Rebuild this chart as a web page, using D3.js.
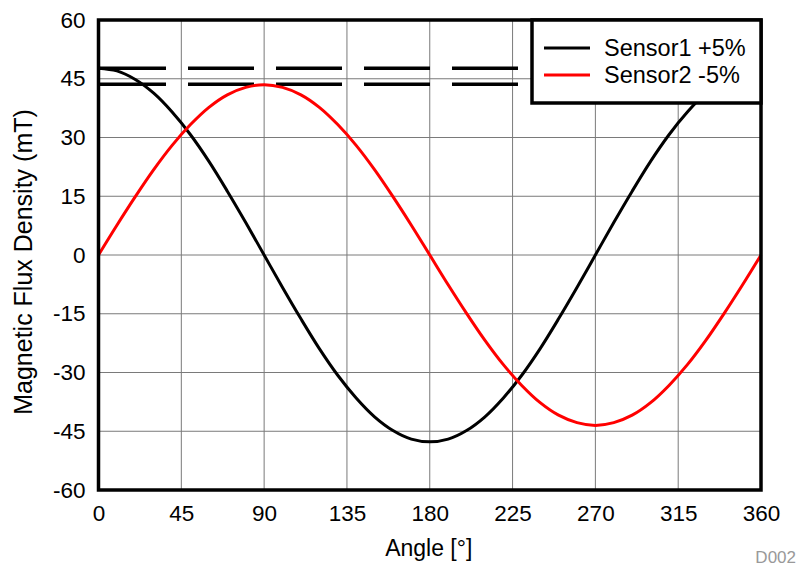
<!DOCTYPE html>
<html><head><meta charset="utf-8">
<script src="https://cdn.jsdelivr.net/npm/d3@7"></script>
<style>body{margin:0;background:#fff}svg{display:block}text{font-family:"Liberation Sans",Arial,sans-serif}</style>
</head><body>
<svg id="c" width="798" height="567"></svg>
<script>
const angles = d3.range(0, 361, 10);
const sensor1 = [47.7, 47.0, 44.8, 41.3, 36.5, 30.7, 23.9, 16.3, 8.3, 0, -8.3, -16.3, -23.9, -30.7, -36.5, -41.3, -44.8, -47.0, -47.7, -47.0, -44.8, -41.3, -36.5, -30.7, -23.9, -16.3, -8.3, 0, 8.3, 16.3, 23.9, 30.7, 36.5, 41.3, 44.8, 47.0, 47.7];
const sensor2 = [0, 7.6, 14.9, 21.8, 28.0, 33.3, 37.7, 40.9, 42.8, 43.5, 42.8, 40.9, 37.7, 33.3, 28.0, 21.8, 14.9, 7.6, 0, -7.6, -14.9, -21.8, -28.0, -33.3, -37.7, -40.9, -42.8, -43.5, -42.8, -40.9, -37.7, -33.3, -28.0, -21.8, -14.9, -7.6, 0];
const refLevels = [47.7, 43.6];
const xTicks = [0, 45, 90, 135, 180, 225, 270, 315, 360];
const yTicks = [-60, -45, -30, -15, 0, 15, 30, 45, 60];
const seriesNames = ["Sensor1 +5%", "Sensor2 -5%"];
const seriesColors = ["#000000", "#ff0000"];

const svg = d3.select("#c");
const L = 98.5, R = 761, T = 20, B = 490;
const x = d3.scaleLinear().domain([0, 360]).range([L, R]);
const y = d3.scaleLinear().domain([-60, 60]).range([B, T]);
const fmt = d => String(d);

// grid
svg.append("g").selectAll("line").data(xTicks).join("line")
  .attr("x1", d => x(d)).attr("x2", d => x(d)).attr("y1", T).attr("y2", B)
  .attr("stroke", "#7a7a7a").attr("stroke-width", 1);
svg.append("g").selectAll("line").data(yTicks).join("line")
  .attr("y1", d => y(d)).attr("y2", d => y(d)).attr("x1", L).attr("x2", R)
  .attr("stroke", "#7a7a7a").attr("stroke-width", 1);

// reference dashed lines
svg.append("g").selectAll("line").data(refLevels).join("line")
  .attr("x1", L + 1.5).attr("x2", R).attr("y1", d => y(d)).attr("y2", d => y(d))
  .attr("stroke", "#000").attr("stroke-width", 3.5).attr("stroke-dasharray", "66,22");

// curves
const line = d3.line().x((d, i) => x(angles[i])).y(d => y(d)).curve(d3.curveCatmullRom);
[sensor1, sensor2].forEach((s, k) => {
  svg.append("path").attr("d", line(s)).attr("fill", "none")
    .attr("stroke", seriesColors[k]).attr("stroke-width", 3);
});

// frame
svg.append("rect").attr("x", L).attr("y", T).attr("width", R - L).attr("height", B - T)
  .attr("fill", "none").attr("stroke", "#000").attr("stroke-width", 3.5);

// axes labels
const xAxis = d3.axisBottom(x).tickValues(xTicks).tickFormat(fmt).tickSize(0).tickPadding(15);
const gx = svg.append("g").attr("transform", `translate(0,${B})`).call(xAxis);
gx.select(".domain").remove();
gx.selectAll("text").attr("font-size", 22.5).attr("fill", "#000").attr("font-family", "Liberation Sans, Arial, sans-serif");

const yAxis = d3.axisLeft(y).tickValues(yTicks).tickFormat(fmt).tickSize(0).tickPadding(13);
const gy = svg.append("g").attr("transform", `translate(${L},0)`).call(yAxis);
gy.select(".domain").remove();
gy.selectAll("text").attr("font-size", 22.5).attr("fill", "#000").attr("font-family", "Liberation Sans, Arial, sans-serif");

svg.append("text").attr("x", (L + R) / 2 - 1).attr("y", 556).attr("text-anchor", "middle")
  .attr("font-size", 23).text("Angle [°]");
svg.append("text").attr("transform", `translate(32,${262}) rotate(-90)`)
  .attr("text-anchor", "middle").attr("font-size", 25).text("Magnetic Flux Density (mT)");
svg.append("text").attr("x", 796).attr("y", 563).attr("text-anchor", "end")
  .attr("font-size", 17).attr("fill", "#999").text("D002");

// legend
const lg = svg.append("g");
lg.append("rect").attr("x", 532).attr("y", 20).attr("width", 229).attr("height", 83)
  .attr("fill", "#fff").attr("stroke", "#000").attr("stroke-width", 3.5);
seriesNames.forEach((n, k) => {
  const yy = 48 + k * 27;
  lg.append("line").attr("x1", 544).attr("x2", 590).attr("y1", yy).attr("y2", yy)
    .attr("stroke", seriesColors[k]).attr("stroke-width", 3);
  lg.append("text").attr("x", 604).attr("y", yy + 8).attr("font-size", 23.5).text(n);
});
</script>
</body></html>
